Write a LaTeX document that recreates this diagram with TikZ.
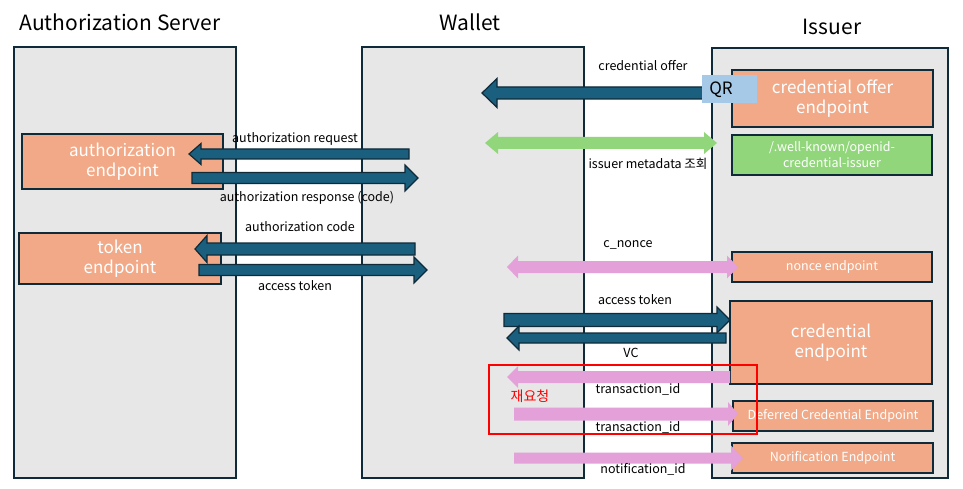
\documentclass[tikz,border=0pt]{standalone}
\usepackage{fontspec}
\setmainfont{Noto Sans CJK KR}
\definecolor{bgc}{HTML}{E7E7E7}
\definecolor{navy}{HTML}{0F2A38}
\definecolor{salmon}{HTML}{F1A987}
\definecolor{greenc}{HTML}{92D67C}
\definecolor{pinkc}{HTML}{E4A0D8}
\definecolor{arrblue}{HTML}{1A5F7E}
\definecolor{qrc}{HTML}{A7C9E8}
\newcommand\blkarrow[7][]{%
  \path[#1] (#2,{#4-#5}) -- ({#3-#7},{#4-#5}) -- ({#3-#7},{#4-#6}) -- (#3,#4)
    -- ({#3-#7},{#4+#6}) -- ({#3-#7},{#4+#5}) -- (#2,{#4+#5}) -- cycle;}
\newcommand\dblarrow[7][]{%
  \path[#1] (#2,#4) -- ({#2+#7},{#4-#6}) -- ({#2+#7},{#4-#5}) -- ({#3-#7},{#4-#5})
    -- ({#3-#7},{#4-#6}) -- (#3,#4) -- ({#3-#7},{#4+#6}) -- ({#3-#7},{#4+#5})
    -- ({#2+#7},{#4+#5}) -- ({#2+#7},{#4+#6}) -- cycle;}
\begin{document}
\begin{tikzpicture}[x=1pt,y=-1pt,
  col/.style={draw=navy, fill=bgc, line width=2pt, inner sep=0pt},
  ep/.style={draw=navy, fill=salmon, line width=2pt, inner sep=0pt, text=white, align=center},
  bigtxt/.style={font=\fontsize{17}{20.5}\selectfont},
  smalltxt/.style={font=\fontsize{12.5}{16}\selectfont},
  hdr/.style={font=\fontsize{21}{24}\selectfont, text=black},
  lbl/.style={font=\fontsize{12.5}{14}\selectfont, text=black, inner sep=0pt},
  darr/.style={fill=arrblue, draw=navy, line width=1.2pt, line join=miter},
  parr/.style={fill=pinkc},
  garr/.style={fill=greenc}]
\useasboundingbox (0,0) rectangle (963,489);
\fill[white] (0,0) rectangle (963,489);
% headers
\node[hdr] (hAS) at (120,22) {Authorization Server};
\node[hdr] (hW) at (470,22) {Wallet};
\node[hdr] (hI) at (832,27) {Issuer};
% columns
\node[col, minimum width=222pt, minimum height=431pt] (colAS) at (125,262.5) {};
\node[col, minimum width=222pt, minimum height=431pt] (colW) at (473,262.5) {};
\node[col, minimum width=236pt, minimum height=430pt] (colI) at (830,263) {};
% authorization server endpoints
\node[ep, bigtxt, minimum width=201pt, minimum height=55pt] (authep) at (122.5,161.5) {authorization\\endpoint};
\node[ep, bigtxt, minimum width=202pt, minimum height=51pt] (tokep) at (120,258.5) {token\\endpoint};
% issuer endpoints
\node[ep, bigtxt, minimum width=201pt, minimum height=57pt] (coep) at (832.5,98.5) {credential offer\\endpoint};
\node[ep, smalltxt, fill=greenc, minimum width=200pt, minimum height=40pt] (wk) at (832,155) {/.well-known/openid-\\credential-issuer};
\node[ep, smalltxt, minimum width=200pt, minimum height=30pt] (nep) at (832,267) {nonce endpoint};
\node[ep, bigtxt, minimum width=202pt, minimum height=83pt] (cep) at (831,342.5) {credential\\endpoint};
\node[ep, smalltxt, minimum width=200pt, minimum height=30pt] (dep) at (833,416) {Deferred Credential Endpoint};
\node[ep, smalltxt, minimum width=201pt, minimum height=30pt] (noep) at (832.5,458) {Norification Endpoint};
% arrows: authorization server <-> wallet
\blkarrow[darr]{409}{189}{154}{5}{10.5}{-12}
\blkarrow[darr]{192}{418}{178}{5.5}{13}{13}
\blkarrow[darr]{415}{195}{249}{6}{13.5}{-12}
\blkarrow[darr]{199}{427}{270}{5.5}{13}{13}
% credential offer
\blkarrow[darr]{704}{482}{93}{6}{14.5}{-15}
\node[fill=qrc, minimum width=55pt, minimum height=28pt, inner sep=0pt] (qr) at (729.5,89) {};
\node[font=\fontsize{17}{18}\selectfont, inner sep=0pt] (qrt) at (721,90) {QR};
% metadata
\dblarrow[garr]{485}{717}{143}{6}{11}{13}
% nonce
\dblarrow[parr]{507}{738}{267}{6}{11.5}{11}
% credential
\blkarrow[darr]{504}{730}{320}{6.5}{13}{13}
\blkarrow[darr]{726}{507}{338}{5}{12}{-12}
% deferred
\blkarrow[parr]{730}{507}{377}{6}{11}{-11}
\blkarrow[parr]{514}{738}{414}{6.5}{12}{10}
% notification
\blkarrow[parr]{514}{743}{458}{5.5}{12.5}{12}
% labels
\node[lbl] (l1) at (295,139) {authorization request};
\node[lbl] (l2) at (307,198) {authorization response (code)};
\node[lbl] (l3) at (300,227) {authorization code};
\node[lbl] (l4) at (295,286) {access token};
\node[lbl] (l5) at (643,66) {credential offer};
\node[lbl] (l6) at (648,164) {issuer metadata 조회};
\node[lbl] (l7) at (628,245) {c\_nonce};
\node[lbl] (l8) at (635,300) {access token};
\node[lbl] (l9) at (631,353) {VC};
\node[lbl] (l10) at (638,389) {transaction\_id};
\node[lbl] (l11) at (638,427) {transaction\_id};
\node[lbl] (l12) at (643,469) {notification\_id};
\node[lbl, text=red, font=\fontsize{14}{16}\selectfont] (l13) at (530,396) {재요청};
% red highlight box
\node[draw=red, line width=1.5pt, minimum width=268pt, minimum height=69pt, inner sep=0pt] (redbox) at (623,399.5) {};
\end{tikzpicture}
\end{document}
